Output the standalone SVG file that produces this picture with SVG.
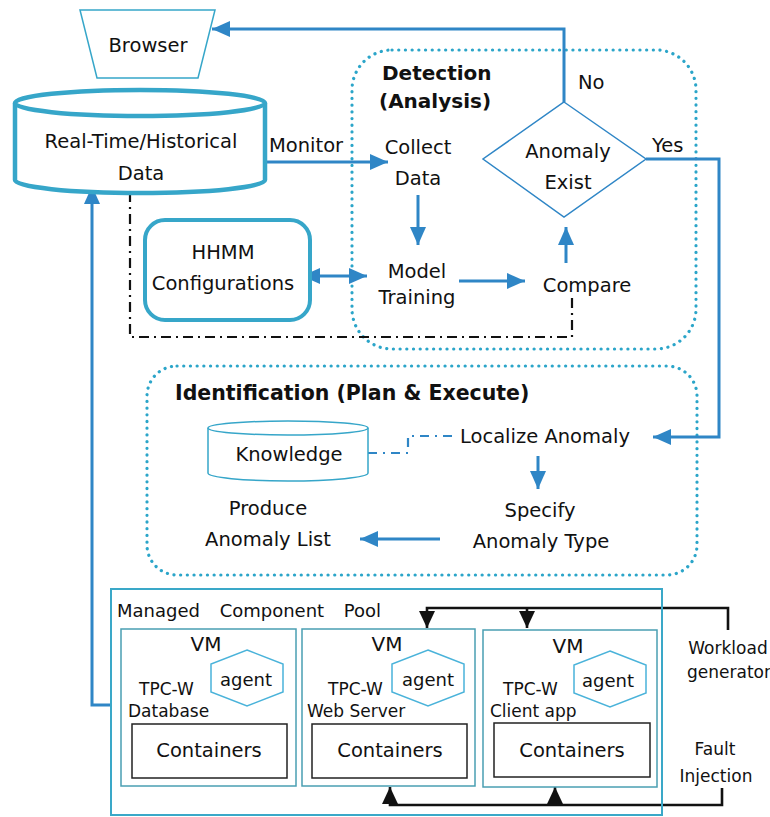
<svg xmlns="http://www.w3.org/2000/svg" width="770" height="817" viewBox="0 0 770 817">
<defs>
<style>
text{font-family:"DejaVu Sans","Liberation Sans",sans-serif;fill:#111;}
.t{font-size:19.5px;}
.s{font-size:17px;}
.b{font-size:20px;font-weight:bold;}
.m{text-anchor:middle;}
.blue{fill:none;stroke:#2f86c6;stroke-width:3;}
.blk{fill:none;stroke:#111;stroke-width:2.6;}
.dot{fill:none;stroke:#2ba5c9;stroke-width:3.2;stroke-dasharray:0.1 6.6;stroke-linecap:round;}
.teal{fill:#fff;stroke:#36a6c9;}
.vm{fill:none;stroke:#4a9fb2;stroke-width:1.5;}
.hex{fill:#fff;stroke:#4ab3da;stroke-width:1.5;}
.cont{fill:none;stroke:#222;stroke-width:1.5;}
</style>
<marker id="ab" viewBox="0 0 10 10" refX="10" refY="5" markerUnits="userSpaceOnUse" markerWidth="18" markerHeight="16" preserveAspectRatio="none" orient="auto-start-reverse"><path d="M0,0L10,5L0,10z" fill="#2f86c6"/></marker>
<marker id="ak" viewBox="0 0 10 10" refX="10" refY="5" markerUnits="userSpaceOnUse" markerWidth="17" markerHeight="16" preserveAspectRatio="none" orient="auto"><path d="M0,0L10,5L0,10z" fill="#111"/></marker>
</defs>
<rect width="770" height="817" fill="#fff"/>

<g id="detection-box"><rect class="dot" x="352" y="50" width="344" height="299" rx="40"/>
<text class="b" x="382" y="80">Detection</text><text class="b" x="379" y="108">(Analysis)</text></g>
<g id="identification-box"><rect class="dot" x="147" y="366" width="550" height="209" rx="30"/>
<text class="b" x="175" y="400" style="font-size:20.5px">Identification (Plan &amp; Execute)</text></g>

<g id="connectors">
<path class="blue" d="M564,102V29H212" marker-end="url(#ab)"/>
<path class="blue" d="M265,162H388" marker-end="url(#ab)"/>
<path class="blue" d="M418,195V245" marker-end="url(#ab)"/>
<path class="blue" d="M302,276H367" marker-start="url(#ab)" marker-end="url(#ab)"/>
<path class="blue" d="M459,281H525" marker-end="url(#ab)"/>
<path class="blue" d="M566,263V227" marker-end="url(#ab)"/>
<path class="blue" d="M646,159H719V437H653" marker-end="url(#ab)"/>
<path class="blue" d="M538,456V489" marker-end="url(#ab)"/>
<path class="blue" d="M440,539H360" marker-end="url(#ab)"/>
<path class="blue" d="M111,705H92V186" marker-end="url(#ab)"/>
<path fill="none" stroke="#111" stroke-width="2.2" stroke-dasharray="10 5 2 5" d="M130,192V337H572V293"/>
<path fill="none" stroke="#2f86c6" stroke-width="2.2" stroke-dasharray="9 6 2 6" d="M368,453H408V436H452"/>
<path class="blk" d="M728,630V608H427V628" marker-end="url(#ak)"/>
<path class="blk" d="M527,608V628" marker-end="url(#ak)"/>
<path class="blk" d="M722,788V805H390V787" marker-end="url(#ak)"/>
<path class="blk" d="M555,805V787" marker-end="url(#ak)"/>
<text class="t" x="269" y="152">Monitor</text>
<text class="t" x="578" y="89">No</text>
<text class="t" x="652" y="152">Yes</text>
</g>

<g id="browser"><polygon class="teal" stroke-width="1.5" points="80,10 215,10 198,78 97,78"/>
<text class="t m" x="148" y="52">Browser</text></g>

<g id="data"><path class="teal" stroke-width="4.5" d="M15,103V180A125,13 0 0 0 265,180V103"/>
<ellipse class="teal" stroke-width="4.5" cx="140" cy="103" rx="125" ry="13"/>
<text class="t m" x="141" y="148">Real-Time/Historical</text><text class="t m" x="141" y="180">Data</text></g>

<g id="hhmm"><rect class="teal" stroke-width="4" x="145" y="220" width="165" height="100" rx="20"/>
<text class="t m" x="223" y="259">HHMM</text><text class="t m" x="223" y="290">Configurations</text></g>

<g id="collect"><text class="t m" x="418" y="154">Collect</text><text class="t m" x="418" y="185">Data</text></g>
<g id="model"><text class="t m" x="417" y="278">Model</text><text class="t m" x="417" y="304">Training</text></g>
<g id="compare"><text class="t m" x="587" y="292">Compare</text></g>
<g id="anomaly-exist"><polygon fill="#fff" stroke="#2f86c6" stroke-width="1.5" points="564,102 646,159 564,217 483,159"/>
<text class="t m" x="568" y="158">Anomaly</text><text class="t m" x="568" y="189">Exist</text></g>

<g id="knowledge"><path class="teal" stroke-width="1.5" d="M208,428V473A80,8 0 0 0 368,473V428"/>
<ellipse class="teal" stroke-width="1.5" cx="288" cy="428" rx="80" ry="7"/>
<text class="t m" x="289" y="461">Knowledge</text></g>
<g id="localize"><text class="t" x="460" y="443">Localize Anomaly</text></g>
<g id="specify"><text class="t m" x="540" y="517">Specify</text><text class="t m" x="541" y="548">Anomaly Type</text></g>
<g id="produce"><text class="t m" x="268" y="515">Produce</text><text class="t m" x="268" y="546">Anomaly List</text></g>

<g id="pool"><rect fill="none" stroke="#3aa8c8" stroke-width="2" x="111" y="589" width="551" height="226"/>
<text x="117" y="617" style="font-size:18px;word-spacing:14px">Managed Component Pool</text></g>

<g id="vm-db"><rect class="vm" x="121" y="629" width="175" height="157"/>
<text class="t m" x="206" y="651" style="font-size:20px">VM</text>
<polygon class="hex" points="247,650 283,664 283,692 247,706 211,692 211,664"/>
<text class="m" x="246" y="686" style="font-size:18px">agent</text>
<text class="s" x="139" y="695">TPC-W</text><text class="s" x="128" y="717">Database</text>
<rect class="cont" x="132" y="724" width="155" height="54"/>
<text class="t m" x="209" y="757">Containers</text></g>

<g id="vm-web"><rect class="vm" x="302" y="629" width="173" height="157"/>
<text class="t m" x="387" y="651" style="font-size:20px">VM</text>
<polygon class="hex" points="428,650 464,664 464,692 428,706 392,692 392,664"/>
<text class="m" x="428" y="686" style="font-size:18px">agent</text>
<text class="s" x="328" y="695">TPC-W</text><text class="s" x="307" y="717">Web Server</text>
<rect class="cont" x="312" y="724" width="155" height="54"/>
<text class="t m" x="390" y="757">Containers</text></g>

<g id="vm-client"><rect class="vm" x="483" y="630" width="174" height="157"/>
<text class="t m" x="568" y="653" style="font-size:20px">VM</text>
<polygon class="hex" points="610,651 646,665 646,693 610,707 574,693 574,665"/>
<text class="m" x="608" y="687" style="font-size:18px">agent</text>
<text class="s" x="503" y="695">TPC-W</text><text class="s" x="490" y="717">Client app</text>
<rect class="cont" x="494" y="723" width="156" height="54"/>
<text class="t m" x="572" y="757">Containers</text></g>

<g id="workload"><text class="s m" x="728" y="654">Workload</text><text class="s m" x="729" y="678">generator</text></g>
<g id="fault"><text class="s m" x="715" y="755">Fault</text><text class="s m" x="716" y="782">Injection</text></g>
</svg>
